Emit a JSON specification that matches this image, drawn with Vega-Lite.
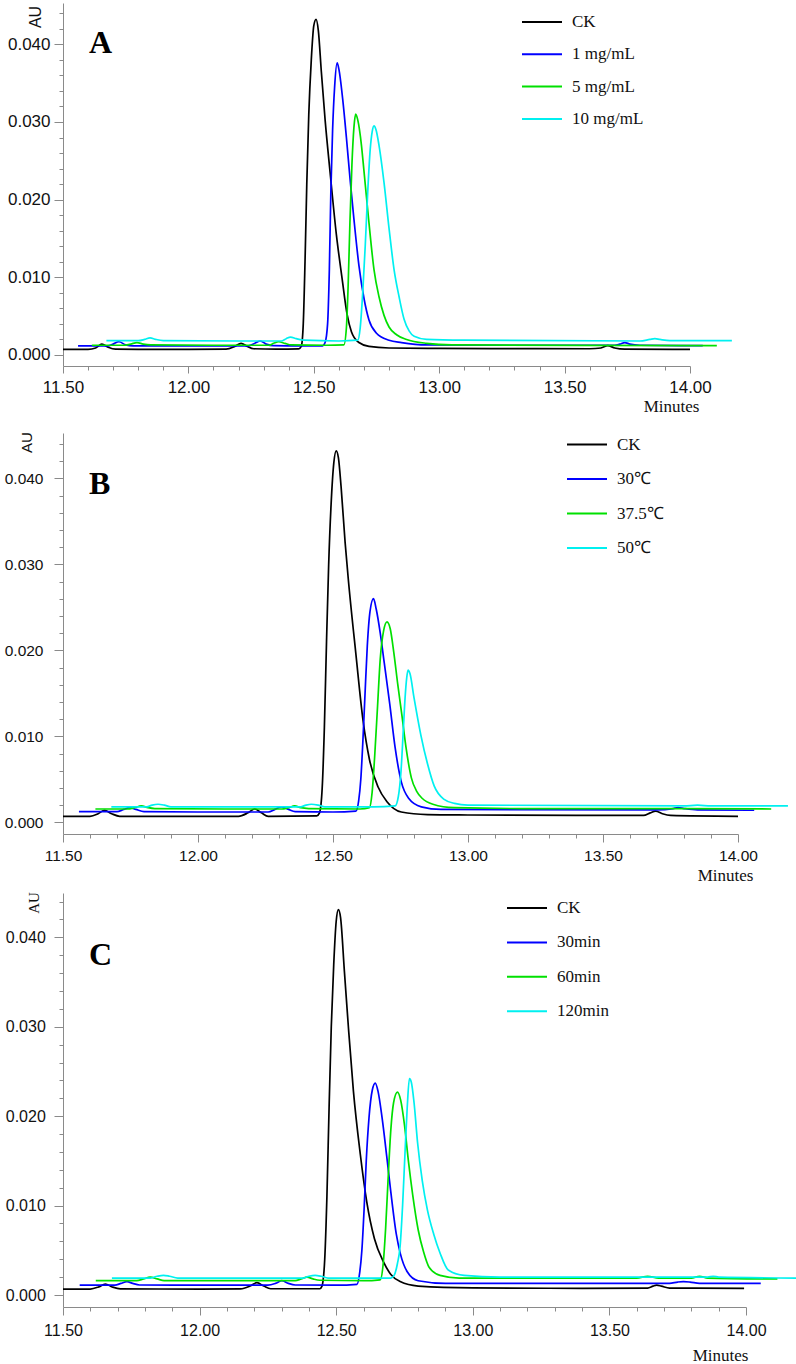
{
"$schema": "https://vega.github.io/schema/vega-lite/v6.json",
"padding": {"left": 4, "top": 3, "right": 0, "bottom": 0},
"background": "white",
"config": {
  "view": {"stroke": null},
  "axis": {"grid": false, "domainColor": "#8a8a8a", "tickColor": "#8a8a8a", "labelColor": "#111111", "labelFont": "Liberation Sans", "titleColor": "#111111", "titleFontWeight": "normal", "labelOverlap": false, "labelFlush": false},
  "legend": {"padding": 0}
},
"datasets": {
"A": [
{"s":"CK","t":11.50,"v":0.00073},{"s":"CK","t":11.60,"v":0.00073},{"s":"CK","t":11.63,"v":0.0009},{"s":"CK","t":11.655,"v":0.0014},{"s":"CK","t":11.68,"v":0.0010},{"s":"CK","t":11.71,"v":0.00075},{"s":"CK","t":11.80,"v":0.00073},{"s":"CK","t":12.00,"v":0.00073},{"s":"CK","t":12.15,"v":0.00075},{"s":"CK","t":12.185,"v":0.0011},{"s":"CK","t":12.21,"v":0.0015},{"s":"CK","t":12.235,"v":0.0011},{"s":"CK","t":12.26,"v":0.0008},{"s":"CK","t":12.35,"v":0.00075},{"s":"CK","t":12.44,"v":0.00078},{"s":"CK","t":12.45,"v":0.0011},{"s":"CK","t":12.458,"v":0.004},{"s":"CK","t":12.465,"v":0.012},{"s":"CK","t":12.472,"v":0.022},{"s":"CK","t":12.48,"v":0.031},{"s":"CK","t":12.49,"v":0.038},{"s":"CK","t":12.50,"v":0.0424},{"s":"CK","t":12.509,"v":0.0432},{"s":"CK","t":12.518,"v":0.0418},{"s":"CK","t":12.53,"v":0.0365},{"s":"CK","t":12.545,"v":0.0303},{"s":"CK","t":12.565,"v":0.0235},{"s":"CK","t":12.59,"v":0.0155},{"s":"CK","t":12.613,"v":0.0098},{"s":"CK","t":12.633,"v":0.0052},{"s":"CK","t":12.65,"v":0.003},{"s":"CK","t":12.68,"v":0.0016},{"s":"CK","t":12.72,"v":0.0011},{"s":"CK","t":12.80,"v":0.0009},{"s":"CK","t":13.00,"v":0.00085},{"s":"CK","t":13.30,"v":0.00082},{"s":"CK","t":13.60,"v":0.0008},{"s":"CK","t":13.645,"v":0.0009},{"s":"CK","t":13.672,"v":0.0012},{"s":"CK","t":13.70,"v":0.0009},{"s":"CK","t":13.74,"v":0.00075},{"s":"CK","t":14.00,"v":0.00073},
{"s":"1 mg/mL","t":11.56,"v":0.00116},{"s":"1 mg/mL","t":11.68,"v":0.00116},{"s":"1 mg/mL","t":11.70,"v":0.0014},{"s":"1 mg/mL","t":11.723,"v":0.0017},{"s":"1 mg/mL","t":11.75,"v":0.0013},{"s":"1 mg/mL","t":11.78,"v":0.00118},{"s":"1 mg/mL","t":12.00,"v":0.00116},{"s":"1 mg/mL","t":12.24,"v":0.00118},{"s":"1 mg/mL","t":12.265,"v":0.0015},{"s":"1 mg/mL","t":12.287,"v":0.0018},{"s":"1 mg/mL","t":12.31,"v":0.0014},{"s":"1 mg/mL","t":12.34,"v":0.0012},{"s":"1 mg/mL","t":12.45,"v":0.00116},{"s":"1 mg/mL","t":12.535,"v":0.00118},{"s":"1 mg/mL","t":12.545,"v":0.0016},{"s":"1 mg/mL","t":12.555,"v":0.004},{"s":"1 mg/mL","t":12.562,"v":0.011},{"s":"1 mg/mL","t":12.568,"v":0.021},{"s":"1 mg/mL","t":12.575,"v":0.029},{"s":"1 mg/mL","t":12.583,"v":0.0345},{"s":"1 mg/mL","t":12.593,"v":0.0376},{"s":"1 mg/mL","t":12.60,"v":0.0368},{"s":"1 mg/mL","t":12.615,"v":0.033},{"s":"1 mg/mL","t":12.63,"v":0.028},{"s":"1 mg/mL","t":12.645,"v":0.0225},{"s":"1 mg/mL","t":12.66,"v":0.0175},{"s":"1 mg/mL","t":12.68,"v":0.0115},{"s":"1 mg/mL","t":12.70,"v":0.0073},{"s":"1 mg/mL","t":12.72,"v":0.0045},{"s":"1 mg/mL","t":12.75,"v":0.0028},{"s":"1 mg/mL","t":12.80,"v":0.0019},{"s":"1 mg/mL","t":12.85,"v":0.0016},{"s":"1 mg/mL","t":12.95,"v":0.0013},{"s":"1 mg/mL","t":13.30,"v":0.00125},{"s":"1 mg/mL","t":13.70,"v":0.00125},{"s":"1 mg/mL","t":13.72,"v":0.0014},{"s":"1 mg/mL","t":13.74,"v":0.0016},{"s":"1 mg/mL","t":13.76,"v":0.0014},{"s":"1 mg/mL","t":13.80,"v":0.00125},{"s":"1 mg/mL","t":14.051,"v":0.0012},
{"s":"5 mg/mL","t":11.615,"v":0.00125},{"s":"5 mg/mL","t":11.74,"v":0.00125},{"s":"5 mg/mL","t":11.77,"v":0.0014},{"s":"5 mg/mL","t":11.795,"v":0.0016},{"s":"5 mg/mL","t":11.82,"v":0.0014},{"s":"5 mg/mL","t":11.85,"v":0.0013},{"s":"5 mg/mL","t":12.10,"v":0.00125},{"s":"5 mg/mL","t":12.32,"v":0.00125},{"s":"5 mg/mL","t":12.34,"v":0.0015},{"s":"5 mg/mL","t":12.36,"v":0.0017},{"s":"5 mg/mL","t":12.385,"v":0.0015},{"s":"5 mg/mL","t":12.41,"v":0.0013},{"s":"5 mg/mL","t":12.55,"v":0.00125},{"s":"5 mg/mL","t":12.62,"v":0.0013},{"s":"5 mg/mL","t":12.63,"v":0.0035},{"s":"5 mg/mL","t":12.637,"v":0.009},{"s":"5 mg/mL","t":12.644,"v":0.017},{"s":"5 mg/mL","t":12.652,"v":0.0245},{"s":"5 mg/mL","t":12.66,"v":0.0293},{"s":"5 mg/mL","t":12.667,"v":0.031},{"s":"5 mg/mL","t":12.675,"v":0.0303},{"s":"5 mg/mL","t":12.69,"v":0.027},{"s":"5 mg/mL","t":12.70,"v":0.0237},{"s":"5 mg/mL","t":12.72,"v":0.017},{"s":"5 mg/mL","t":12.74,"v":0.011},{"s":"5 mg/mL","t":12.76,"v":0.0075},{"s":"5 mg/mL","t":12.78,"v":0.0051},{"s":"5 mg/mL","t":12.80,"v":0.0036},{"s":"5 mg/mL","t":12.83,"v":0.0026},{"s":"5 mg/mL","t":12.87,"v":0.002},{"s":"5 mg/mL","t":12.95,"v":0.0015},{"s":"5 mg/mL","t":13.05,"v":0.0013},{"s":"5 mg/mL","t":14.107,"v":0.0012},
{"s":"10 mg/mL","t":11.673,"v":0.00184},{"s":"10 mg/mL","t":11.80,"v":0.00184},{"s":"10 mg/mL","t":11.825,"v":0.002},{"s":"10 mg/mL","t":11.847,"v":0.0022},{"s":"10 mg/mL","t":11.87,"v":0.002},{"s":"10 mg/mL","t":11.90,"v":0.00185},{"s":"10 mg/mL","t":12.20,"v":0.0018},{"s":"10 mg/mL","t":12.37,"v":0.0018},{"s":"10 mg/mL","t":12.39,"v":0.0021},{"s":"10 mg/mL","t":12.407,"v":0.0023},{"s":"10 mg/mL","t":12.43,"v":0.0021},{"s":"10 mg/mL","t":12.46,"v":0.0019},{"s":"10 mg/mL","t":12.60,"v":0.0018},{"s":"10 mg/mL","t":12.675,"v":0.0019},{"s":"10 mg/mL","t":12.685,"v":0.0035},{"s":"10 mg/mL","t":12.695,"v":0.008},{"s":"10 mg/mL","t":12.705,"v":0.014},{"s":"10 mg/mL","t":12.715,"v":0.021},{"s":"10 mg/mL","t":12.725,"v":0.0265},{"s":"10 mg/mL","t":12.733,"v":0.0288},{"s":"10 mg/mL","t":12.74,"v":0.0295},{"s":"10 mg/mL","t":12.748,"v":0.029},{"s":"10 mg/mL","t":12.76,"v":0.027},{"s":"10 mg/mL","t":12.78,"v":0.0222},{"s":"10 mg/mL","t":12.80,"v":0.0163},{"s":"10 mg/mL","t":12.82,"v":0.011},{"s":"10 mg/mL","t":12.84,"v":0.0075},{"s":"10 mg/mL","t":12.86,"v":0.0046},{"s":"10 mg/mL","t":12.88,"v":0.0031},{"s":"10 mg/mL","t":12.90,"v":0.0024},{"s":"10 mg/mL","t":12.95,"v":0.002},{"s":"10 mg/mL","t":13.10,"v":0.0019},{"s":"10 mg/mL","t":13.80,"v":0.0018},{"s":"10 mg/mL","t":13.84,"v":0.002},{"s":"10 mg/mL","t":13.86,"v":0.0021},{"s":"10 mg/mL","t":13.88,"v":0.002},{"s":"10 mg/mL","t":13.92,"v":0.00185},{"s":"10 mg/mL","t":14.167,"v":0.00185}
],
"B": [
{"s":"CK","t":11.50,"v":0.0007},{"s":"CK","t":11.60,"v":0.0007},{"s":"CK","t":11.63,"v":0.001},{"s":"CK","t":11.654,"v":0.0014},{"s":"CK","t":11.68,"v":0.001},{"s":"CK","t":11.71,"v":0.0007},{"s":"CK","t":12.00,"v":0.0007},{"s":"CK","t":12.15,"v":0.0007},{"s":"CK","t":12.185,"v":0.0011},{"s":"CK","t":12.21,"v":0.00155},{"s":"CK","t":12.235,"v":0.0011},{"s":"CK","t":12.26,"v":0.0007},{"s":"CK","t":12.44,"v":0.00075},{"s":"CK","t":12.45,"v":0.0011},{"s":"CK","t":12.46,"v":0.004},{"s":"CK","t":12.468,"v":0.011},{"s":"CK","t":12.476,"v":0.021},{"s":"CK","t":12.484,"v":0.030},{"s":"CK","t":12.493,"v":0.037},{"s":"CK","t":12.503,"v":0.0418},{"s":"CK","t":12.512,"v":0.0432},{"s":"CK","t":12.52,"v":0.0424},{"s":"CK","t":12.53,"v":0.039},{"s":"CK","t":12.545,"v":0.0325},{"s":"CK","t":12.556,"v":0.0285},{"s":"CK","t":12.585,"v":0.0195},{"s":"CK","t":12.611,"v":0.0119},{"s":"CK","t":12.635,"v":0.0073},{"s":"CK","t":12.667,"v":0.0041},{"s":"CK","t":12.70,"v":0.0024},{"s":"CK","t":12.753,"v":0.0012},{"s":"CK","t":12.85,"v":0.0009},{"s":"CK","t":13.00,"v":0.00085},{"s":"CK","t":13.40,"v":0.0008},{"s":"CK","t":13.65,"v":0.0008},{"s":"CK","t":13.675,"v":0.0011},{"s":"CK","t":13.695,"v":0.0013},{"s":"CK","t":13.72,"v":0.001},{"s":"CK","t":13.75,"v":0.0008},{"s":"CK","t":14.00,"v":0.0007},
{"s":"30℃","t":11.559,"v":0.00124},{"s":"30℃","t":11.70,"v":0.00124},{"s":"30℃","t":11.725,"v":0.0015},{"s":"30℃","t":11.747,"v":0.0017},{"s":"30℃","t":11.77,"v":0.0015},{"s":"30℃","t":11.80,"v":0.00125},{"s":"30℃","t":12.00,"v":0.0012},{"s":"30℃","t":12.26,"v":0.0012},{"s":"30℃","t":12.285,"v":0.0015},{"s":"30℃","t":12.309,"v":0.0018},{"s":"30℃","t":12.335,"v":0.0015},{"s":"30℃","t":12.36,"v":0.00125},{"s":"30℃","t":12.50,"v":0.0012},{"s":"30℃","t":12.585,"v":0.0013},{"s":"30℃","t":12.595,"v":0.0025},{"s":"30℃","t":12.603,"v":0.005},{"s":"30℃","t":12.61,"v":0.009},{"s":"30℃","t":12.618,"v":0.0145},{"s":"30℃","t":12.627,"v":0.0205},{"s":"30℃","t":12.637,"v":0.0245},{"s":"30℃","t":12.65,"v":0.026},{"s":"30℃","t":12.66,"v":0.0248},{"s":"30℃","t":12.675,"v":0.022},{"s":"30℃","t":12.69,"v":0.0185},{"s":"30℃","t":12.71,"v":0.0138},{"s":"30℃","t":12.73,"v":0.0087},{"s":"30℃","t":12.753,"v":0.0047},{"s":"30℃","t":12.78,"v":0.0028},{"s":"30℃","t":12.827,"v":0.0018},{"s":"30℃","t":12.90,"v":0.0015},{"s":"30℃","t":13.70,"v":0.00145},{"s":"30℃","t":13.76,"v":0.0016},{"s":"30℃","t":13.778,"v":0.0017},{"s":"30℃","t":13.80,"v":0.0016},{"s":"30℃","t":13.85,"v":0.00145},{"s":"30℃","t":14.06,"v":0.0014},
{"s":"37.5℃","t":11.62,"v":0.00155},{"s":"37.5℃","t":11.74,"v":0.00155},{"s":"37.5℃","t":11.765,"v":0.0017},{"s":"37.5℃","t":11.79,"v":0.0019},{"s":"37.5℃","t":11.815,"v":0.0017},{"s":"37.5℃","t":11.84,"v":0.0016},{"s":"37.5℃","t":12.10,"v":0.00155},{"s":"37.5℃","t":12.31,"v":0.00155},{"s":"37.5℃","t":12.335,"v":0.0017},{"s":"37.5℃","t":12.358,"v":0.0019},{"s":"37.5℃","t":12.38,"v":0.0017},{"s":"37.5℃","t":12.41,"v":0.0016},{"s":"37.5℃","t":12.60,"v":0.00155},{"s":"37.5℃","t":12.635,"v":0.0017},{"s":"37.5℃","t":12.645,"v":0.0035},{"s":"37.5℃","t":12.655,"v":0.008},{"s":"37.5℃","t":12.665,"v":0.0135},{"s":"37.5℃","t":12.675,"v":0.019},{"s":"37.5℃","t":12.687,"v":0.0222},{"s":"37.5℃","t":12.70,"v":0.0233},{"s":"37.5℃","t":12.712,"v":0.0225},{"s":"37.5℃","t":12.725,"v":0.0198},{"s":"37.5℃","t":12.74,"v":0.016},{"s":"37.5℃","t":12.755,"v":0.0125},{"s":"37.5℃","t":12.77,"v":0.0088},{"s":"37.5℃","t":12.79,"v":0.0052},{"s":"37.5℃","t":12.81,"v":0.0036},{"s":"37.5℃","t":12.83,"v":0.0028},{"s":"37.5℃","t":12.87,"v":0.0021},{"s":"37.5℃","t":12.95,"v":0.0017},{"s":"37.5℃","t":13.20,"v":0.0016},{"s":"37.5℃","t":13.80,"v":0.0016},{"s":"37.5℃","t":14.123,"v":0.00155},
{"s":"50℃","t":11.679,"v":0.0018},{"s":"50℃","t":11.81,"v":0.0018},{"s":"50℃","t":11.83,"v":0.002},{"s":"50℃","t":11.852,"v":0.0021},{"s":"50℃","t":11.875,"v":0.002},{"s":"50℃","t":11.90,"v":0.0018},{"s":"50℃","t":12.20,"v":0.0018},{"s":"50℃","t":12.38,"v":0.0018},{"s":"50℃","t":12.40,"v":0.002},{"s":"50℃","t":12.42,"v":0.0021},{"s":"50℃","t":12.445,"v":0.002},{"s":"50℃","t":12.47,"v":0.0018},{"s":"50℃","t":12.65,"v":0.0018},{"s":"50℃","t":12.73,"v":0.0019},{"s":"50℃","t":12.742,"v":0.003},{"s":"50℃","t":12.752,"v":0.006},{"s":"50℃","t":12.76,"v":0.0105},{"s":"50℃","t":12.767,"v":0.0145},{"s":"50℃","t":12.773,"v":0.0168},{"s":"50℃","t":12.778,"v":0.0177},{"s":"50℃","t":12.785,"v":0.0173},{"s":"50℃","t":12.80,"v":0.0145},{"s":"50℃","t":12.825,"v":0.0102},{"s":"50℃","t":12.85,"v":0.0068},{"s":"50℃","t":12.875,"v":0.0042},{"s":"50℃","t":12.91,"v":0.0027},{"s":"50℃","t":12.95,"v":0.0022},{"s":"50℃","t":13.00,"v":0.002},{"s":"50℃","t":13.80,"v":0.0019},{"s":"50℃","t":13.85,"v":0.002},{"s":"50℃","t":13.90,"v":0.0019},{"s":"50℃","t":14.185,"v":0.0019}
],
"C": [
{"s":"CK","t":11.50,"v":0.00067},{"s":"CK","t":11.60,"v":0.00067},{"s":"CK","t":11.63,"v":0.0009},{"s":"CK","t":11.655,"v":0.00123},{"s":"CK","t":11.68,"v":0.0009},{"s":"CK","t":11.71,"v":0.00068},{"s":"CK","t":12.00,"v":0.00067},{"s":"CK","t":12.15,"v":0.00068},{"s":"CK","t":12.185,"v":0.001},{"s":"CK","t":12.21,"v":0.00138},{"s":"CK","t":12.235,"v":0.001},{"s":"CK","t":12.26,"v":0.0007},{"s":"CK","t":12.44,"v":0.0007},{"s":"CK","t":12.448,"v":0.001},{"s":"CK","t":12.458,"v":0.004},{"s":"CK","t":12.466,"v":0.011},{"s":"CK","t":12.474,"v":0.021},{"s":"CK","t":12.482,"v":0.030},{"s":"CK","t":12.491,"v":0.037},{"s":"CK","t":12.50,"v":0.0418},{"s":"CK","t":12.508,"v":0.0431},{"s":"CK","t":12.516,"v":0.0422},{"s":"CK","t":12.53,"v":0.0362},{"s":"CK","t":12.545,"v":0.0298},{"s":"CK","t":12.563,"v":0.0228},{"s":"CK","t":12.588,"v":0.0158},{"s":"CK","t":12.612,"v":0.0104},{"s":"CK","t":12.64,"v":0.0063},{"s":"CK","t":12.673,"v":0.0037},{"s":"CK","t":12.70,"v":0.0023},{"s":"CK","t":12.734,"v":0.0015},{"s":"CK","t":12.80,"v":0.001},{"s":"CK","t":13.00,"v":0.0008},{"s":"CK","t":13.40,"v":0.00075},{"s":"CK","t":13.64,"v":0.00078},{"s":"CK","t":13.66,"v":0.001},{"s":"CK","t":13.673,"v":0.0011},{"s":"CK","t":13.69,"v":0.001},{"s":"CK","t":13.72,"v":0.00078},{"s":"CK","t":13.993,"v":0.00075},
{"s":"30min","t":11.561,"v":0.0011},{"s":"30min","t":11.69,"v":0.0011},{"s":"30min","t":11.712,"v":0.0013},{"s":"30min","t":11.734,"v":0.0015},{"s":"30min","t":11.755,"v":0.0013},{"s":"30min","t":11.78,"v":0.00112},{"s":"30min","t":12.00,"v":0.0011},{"s":"30min","t":12.25,"v":0.0011},{"s":"30min","t":12.278,"v":0.0013},{"s":"30min","t":12.301,"v":0.0016},{"s":"30min","t":12.325,"v":0.0013},{"s":"30min","t":12.35,"v":0.00112},{"s":"30min","t":12.50,"v":0.0011},{"s":"30min","t":12.576,"v":0.0012},{"s":"30min","t":12.586,"v":0.0025},{"s":"30min","t":12.594,"v":0.005},{"s":"30min","t":12.602,"v":0.0095},{"s":"30min","t":12.61,"v":0.015},{"s":"30min","t":12.62,"v":0.0198},{"s":"30min","t":12.632,"v":0.0229},{"s":"30min","t":12.643,"v":0.0237},{"s":"30min","t":12.653,"v":0.0228},{"s":"30min","t":12.668,"v":0.0198},{"s":"30min","t":12.685,"v":0.0155},{"s":"30min","t":12.70,"v":0.0115},{"s":"30min","t":12.72,"v":0.0068},{"s":"30min","t":12.735,"v":0.0046},{"s":"30min","t":12.76,"v":0.0026},{"s":"30min","t":12.80,"v":0.0016},{"s":"30min","t":12.90,"v":0.0013},{"s":"30min","t":13.72,"v":0.0013},{"s":"30min","t":13.75,"v":0.00145},{"s":"30min","t":13.771,"v":0.0015},{"s":"30min","t":13.795,"v":0.00145},{"s":"30min","t":13.83,"v":0.0013},{"s":"30min","t":14.054,"v":0.0013},
{"s":"60min","t":11.62,"v":0.0016},{"s":"60min","t":11.77,"v":0.0016},{"s":"60min","t":11.795,"v":0.0018},{"s":"60min","t":11.819,"v":0.002},{"s":"60min","t":11.845,"v":0.0018},{"s":"60min","t":11.87,"v":0.0016},{"s":"60min","t":12.35,"v":0.0016},{"s":"60min","t":12.372,"v":0.0018},{"s":"60min","t":12.393,"v":0.002},{"s":"60min","t":12.415,"v":0.0018},{"s":"60min","t":12.44,"v":0.00165},{"s":"60min","t":12.60,"v":0.0016},{"s":"60min","t":12.661,"v":0.0017},{"s":"60min","t":12.672,"v":0.0035},{"s":"60min","t":12.681,"v":0.0075},{"s":"60min","t":12.69,"v":0.013},{"s":"60min","t":12.70,"v":0.0185},{"s":"60min","t":12.71,"v":0.0215},{"s":"60min","t":12.724,"v":0.0227},{"s":"60min","t":12.736,"v":0.0218},{"s":"60min","t":12.75,"v":0.019},{"s":"60min","t":12.765,"v":0.0148},{"s":"60min","t":12.78,"v":0.0112},{"s":"60min","t":12.80,"v":0.0073},{"s":"60min","t":12.82,"v":0.0048},{"s":"60min","t":12.84,"v":0.0031},{"s":"60min","t":12.88,"v":0.0022},{"s":"60min","t":12.95,"v":0.0019},{"s":"60min","t":13.60,"v":0.0019},{"s":"60min","t":13.64,"v":0.0021},{"s":"60min","t":13.68,"v":0.0019},{"s":"60min","t":13.80,"v":0.0019},{"s":"60min","t":13.83,"v":0.0021},{"s":"60min","t":13.86,"v":0.0019},{"s":"60min","t":14.115,"v":0.0018},
{"s":"120min","t":11.679,"v":0.0019},{"s":"120min","t":11.82,"v":0.0019},{"s":"120min","t":11.845,"v":0.0021},{"s":"120min","t":11.868,"v":0.0022},{"s":"120min","t":11.89,"v":0.0021},{"s":"120min","t":11.92,"v":0.0019},{"s":"120min","t":12.38,"v":0.0019},{"s":"120min","t":12.40,"v":0.0021},{"s":"120min","t":12.423,"v":0.0022},{"s":"120min","t":12.445,"v":0.0021},{"s":"120min","t":12.47,"v":0.0019},{"s":"120min","t":12.70,"v":0.0019},{"s":"120min","t":12.712,"v":0.0022},{"s":"120min","t":12.724,"v":0.0035},{"s":"120min","t":12.734,"v":0.0055},{"s":"120min","t":12.743,"v":0.01},{"s":"120min","t":12.752,"v":0.016},{"s":"120min","t":12.76,"v":0.021},{"s":"120min","t":12.768,"v":0.0242},{"s":"120min","t":12.775,"v":0.0238},{"s":"120min","t":12.785,"v":0.0215},{"s":"120min","t":12.798,"v":0.017},{"s":"120min","t":12.815,"v":0.0128},{"s":"120min","t":12.834,"v":0.0095},{"s":"120min","t":12.857,"v":0.0068},{"s":"120min","t":12.88,"v":0.0047},{"s":"120min","t":12.91,"v":0.0028},{"s":"120min","t":12.968,"v":0.0022},{"s":"120min","t":13.10,"v":0.002},{"s":"120min","t":13.86,"v":0.002},{"s":"120min","t":13.88,"v":0.0021},{"s":"120min","t":13.90,"v":0.002},{"s":"120min","t":14.183,"v":0.0019}
]
},
"bounds": "flush",
"spacing": 67,
"resolve": {"scale": {"color": "independent"}, "legend": {"color": "independent"}},
"vconcat": [
{
  "width": 627, "height": 363,
  "data": {"name": "A"},
  "title": {"text": "A", "anchor": "start", "frame": "group", "align": "left", "baseline": "alphabetic", "offset": 0, "dx": 26, "dy": 82, "font": "Liberation Serif", "fontSize": 32, "fontWeight": "bold", "color": "#000000"},
  "mark": {"type": "line", "interpolate": "monotone", "strokeWidth": 1.7, "clip": false},
  "encoding": {
    "x": {"field": "t", "type": "quantitative", "scale": {"domain": [11.5, 14.0], "nice": false, "zero": false},
      "axis": {"values": [11.5,11.6,11.7,11.8,11.9,12.0,12.1,12.2,12.3,12.4,12.5,12.6,12.7,12.8,12.9,13.0,13.1,13.2,13.3,13.4,13.5,13.6,13.7,13.8,13.9,14.0],
        "labelExpr": "round(datum.value*10) % 5 == 0 ? format(datum.value, '.2f') : ''",
        "tickSize": {"condition": {"test": "round(datum.value*10) % 5 == 0", "value": 7}, "value": 4},
        "labelFontSize": 17, "labelPadding": 6,
        "title": "Minutes", "titleFont": "Liberation Serif", "titleFontSize": 17, "titleX": 608, "titleY": 40, "titleAlign": "center", "titleBaseline": "middle"}},
    "y": {"field": "v", "type": "quantitative", "scale": {"domain": [-0.00142, 0.04532], "nice": false, "zero": false},
      "axis": {"values": [0,0.002,0.004,0.006,0.008,0.01,0.012,0.014,0.016,0.018,0.02,0.022,0.024,0.026,0.028,0.03,0.032,0.034,0.036,0.038,0.04,0.042,0.044],
        "labelExpr": "round(datum.value*1000) % 10 == 0 ? format(datum.value, '.3f') : ''",
        "tickSize": {"condition": {"test": "round(datum.value*1000) % 10 == 0", "value": 9}, "value": 4},
        "labelFontSize": 17, "labelPadding": 4,
        "title": "AU", "titleFont": "Liberation Sans", "titleFontSize": 16, "titleAngle": 270, "titleX": -28, "titleY": 13.5, "titleAlign": "center", "titleBaseline": "middle"}},
    "color": {"field": "s", "type": "nominal",
      "scale": {"domain": ["CK", "1 mg/mL", "5 mg/mL", "10 mg/mL"], "range": ["#000000", "#0000ff", "#00e000", "#00f0f0"]},
      "legend": {"orient": "none", "legendX": 468, "legendY": 8, "title": null, "symbolType": "M-2,0H2", "symbolSize": 400, "symbolStrokeWidth": 2, "labelOffset": 19, "rowPadding": 13.3, "labelFont": "Liberation Serif", "labelFontSize": 17, "labelColor": "#111111"}}
  }
},
{
  "bounds": "flush",
  "spacing": 59,
  "resolve": {"scale": {"color": "independent"}, "legend": {"color": "independent"}},
  "vconcat": [
  {
    "width": 675, "height": 401,
    "data": {"name": "B"},
    "title": {"text": "B", "anchor": "start", "frame": "group", "align": "left", "baseline": "alphabetic", "offset": 0, "dx": 26, "dy": 94, "font": "Liberation Serif", "fontSize": 32, "fontWeight": "bold", "color": "#000000"},
    "mark": {"type": "line", "interpolate": "monotone", "strokeWidth": 1.7, "clip": false},
    "encoding": {
      "x": {"field": "t", "type": "quantitative", "scale": {"domain": [11.5, 14.0], "nice": false, "zero": false},
        "axis": {"values": [11.5,11.6,11.7,11.8,11.9,12.0,12.1,12.2,12.3,12.4,12.5,12.6,12.7,12.8,12.9,13.0,13.1,13.2,13.3,13.4,13.5,13.6,13.7,13.8,13.9,14.0],
          "labelExpr": "round(datum.value*10) % 5 == 0 ? format(datum.value, '.2f') : ''",
          "tickSize": {"condition": {"test": "round(datum.value*10) % 5 == 0", "value": 8}, "value": 4},
          "labelFontSize": 15.5, "labelPadding": 6.4,
          "title": "Minutes", "titleFont": "Liberation Serif", "titleFontSize": 17, "titleX": 662, "titleY": 41, "titleAlign": "center", "titleBaseline": "middle"}},
      "y": {"field": "v", "type": "quantitative", "scale": {"domain": [-0.00136, 0.04527], "nice": false, "zero": false},
        "axis": {"values": [0,0.002,0.004,0.006,0.008,0.01,0.012,0.014,0.016,0.018,0.02,0.022,0.024,0.026,0.028,0.03,0.032,0.034,0.036,0.038,0.04,0.042,0.044],
          "labelExpr": "round(datum.value*1000) % 10 == 0 ? format(datum.value, '.3f') : ''",
          "tickSize": {"condition": {"test": "round(datum.value*1000) % 10 == 0", "value": 9}, "value": 4},
          "labelFontSize": 15.5, "labelPadding": 11,
          "title": "AU", "titleFont": "Liberation Sans", "titleFontSize": 15, "titleAngle": 270, "titleX": -37, "titleY": 9, "titleAlign": "center", "titleBaseline": "middle"}},
      "color": {"field": "s", "type": "nominal",
        "scale": {"domain": ["CK", "30℃", "37.5℃", "50℃"], "range": ["#000000", "#0000ff", "#00e000", "#00f0f0"]},
        "legend": {"orient": "none", "legendX": 513, "legendY": 0.5, "title": null, "symbolType": "M-2,0H2", "symbolSize": 400, "symbolStrokeWidth": 2, "labelOffset": 19, "rowPadding": 15.5, "labelFont": "Liberation Serif", "labelFontSize": 17, "labelColor": "#111111"}}
    }
  },
  {
    "width": 683, "height": 414,
    "data": {"name": "C"},
    "title": {"text": "C", "anchor": "start", "frame": "group", "align": "left", "baseline": "alphabetic", "offset": 0, "dx": 26, "dy": 105, "font": "Liberation Serif", "fontSize": 32, "fontWeight": "bold", "color": "#000000"},
    "mark": {"type": "line", "interpolate": "monotone", "strokeWidth": 1.7, "clip": false},
    "encoding": {
      "x": {"field": "t", "type": "quantitative", "scale": {"domain": [11.5, 14.0], "nice": false, "zero": false},
        "axis": {"values": [11.5,11.6,11.7,11.8,11.9,12.0,12.1,12.2,12.3,12.4,12.5,12.6,12.7,12.8,12.9,13.0,13.1,13.2,13.3,13.4,13.5,13.6,13.7,13.8,13.9,14.0],
          "labelExpr": "round(datum.value*10) % 5 == 0 ? format(datum.value, '.2f') : ''",
          "tickSize": {"condition": {"test": "round(datum.value*10) % 5 == 0", "value": 8}, "value": 4},
          "labelFontSize": 16, "labelPadding": 7.1,
          "title": "Minutes", "titleFont": "Liberation Serif", "titleFontSize": 17, "titleX": 657, "titleY": 48, "titleAlign": "center", "titleBaseline": "middle"}},
      "y": {"field": "v", "type": "quantitative", "scale": {"domain": [-0.00134, 0.04496], "nice": false, "zero": false},
        "axis": {"values": [0,0.002,0.004,0.006,0.008,0.01,0.012,0.014,0.016,0.018,0.02,0.022,0.024,0.026,0.028,0.03,0.032,0.034,0.036,0.038,0.04,0.042,0.044],
          "labelExpr": "round(datum.value*1000) % 10 == 0 ? format(datum.value, '.3f') : ''",
          "tickSize": {"condition": {"test": "round(datum.value*1000) % 10 == 0", "value": 9}, "value": 4},
          "labelFontSize": 16, "labelPadding": 8.7,
          "title": "AU", "titleFont": "Liberation Serif", "titleFontSize": 15, "titleAngle": 270, "titleX": -30, "titleY": 9.5, "titleAlign": "center", "titleBaseline": "middle"}},
      "color": {"field": "s", "type": "nominal",
        "scale": {"domain": ["CK", "30min", "60min", "120min"], "range": ["#000000", "#0000ff", "#00e000", "#00f0f0"]},
        "legend": {"orient": "none", "legendX": 453, "legendY": 4, "title": null, "symbolType": "M-2,0H2", "symbolSize": 400, "symbolStrokeWidth": 2, "labelOffset": 19, "rowPadding": 15.4, "labelFont": "Liberation Serif", "labelFontSize": 17, "labelColor": "#111111"}}
    }
  }
  ]
}
]
}
